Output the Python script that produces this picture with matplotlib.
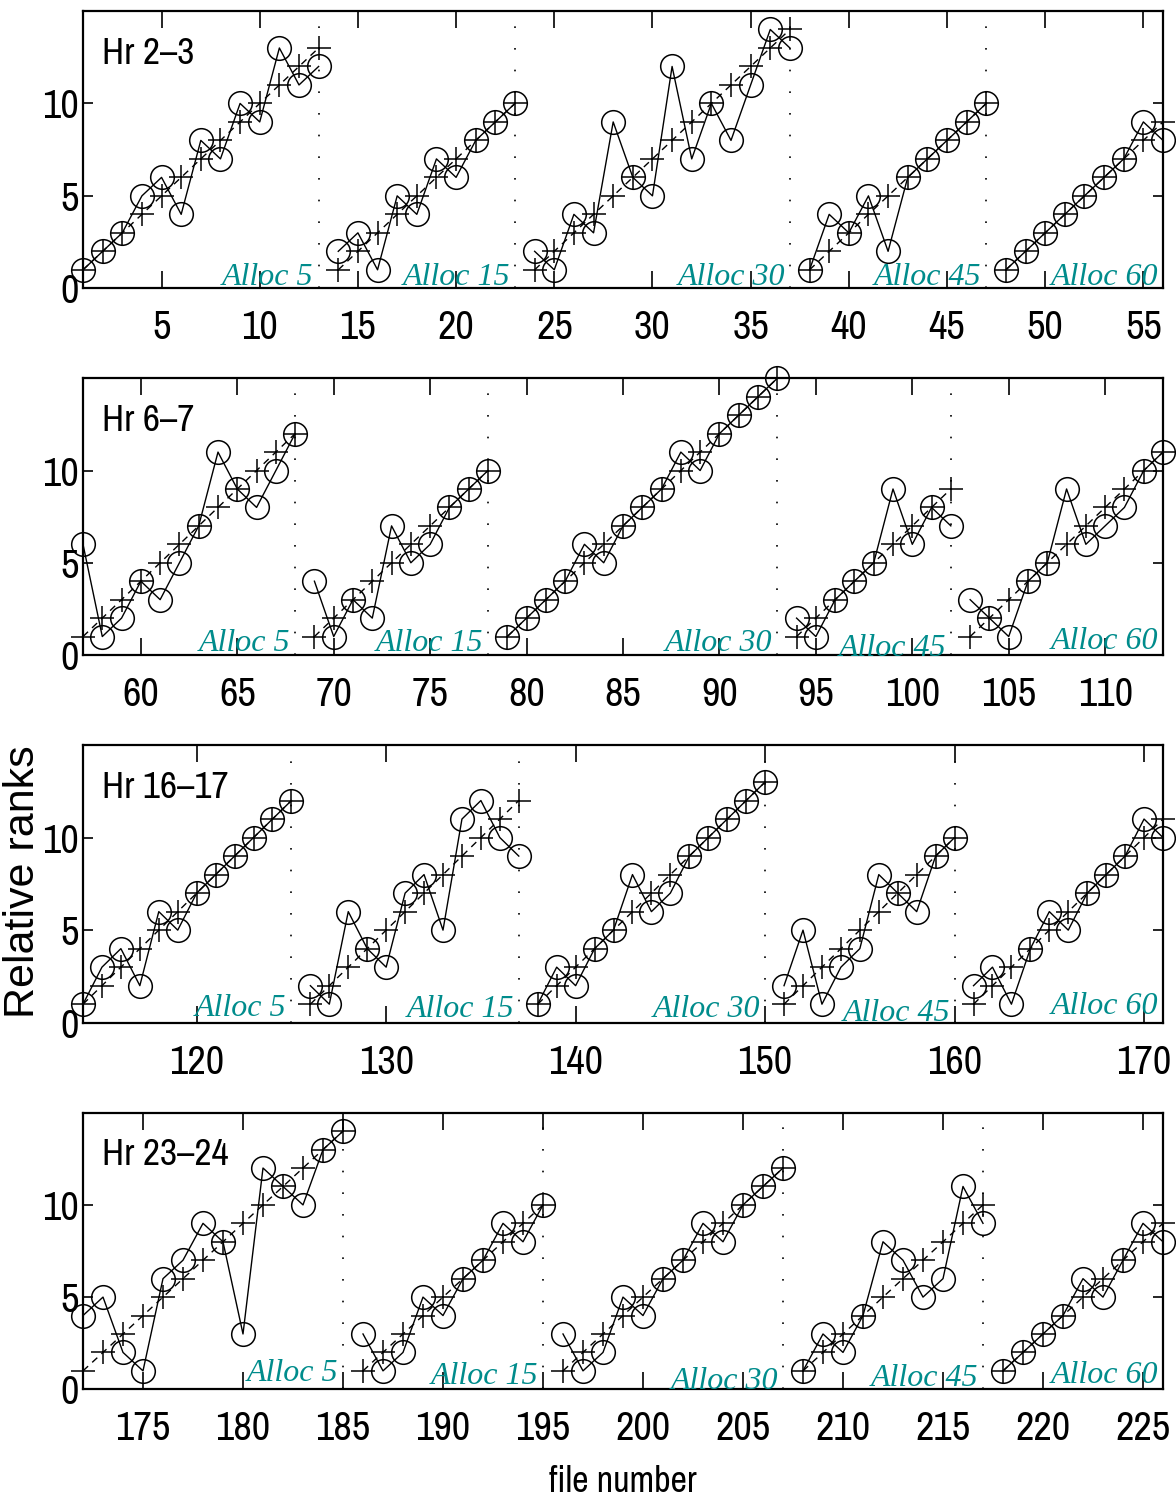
import numpy as np
import matplotlib
matplotlib.use("Agg")
import matplotlib.pyplot as plt
from matplotlib import font_manager

# ---------------- data ----------------
panel_titles = ["Hr 2\u20133", "Hr 6\u20137", "Hr 16\u201317", "Hr 23\u201324"]
alloc_labels = ["Alloc 5", "Alloc 15", "Alloc 30", "Alloc 45", "Alloc 60"]

# first file number of each allocation segment, per panel
p1_starts = [1, 14, 24, 38, 48]
p2_starts = [57, 69, 79, 94, 103]
p3_starts = [114, 126, 138, 151, 161]
p4_starts = [172, 186, 196, 208, 218]

# circle series (relative ranks) per segment
p1_circ = [[1, 2, 3, 5, 6, 4, 8, 7, 10, 9, 13, 11, 12],
           [2, 3, 1, 5, 4, 7, 6, 8, 9, 10],
           [2, 1, 4, 3, 9, 6, 5, 12, 7, 10, 8, 11, 14, 13],
           [1, 4, 3, 5, 2, 6, 7, 8, 9, 10],
           [1, 2, 3, 4, 5, 6, 7, 9, 8]]
p2_circ = [[6, 1, 2, 4, 3, 5, 7, 11, 9, 8, 10, 12],
           [4, 1, 3, 2, 7, 5, 6, 8, 9, 10],
           [1, 2, 3, 4, 6, 5, 7, 8, 9, 11, 10, 12, 13, 14, 15],
           [2, 1, 3, 4, 5, 9, 6, 8, 7],
           [3, 2, 1, 4, 5, 9, 6, 7, 8, 10, 11]]
p3_circ = [[1, 3, 4, 2, 6, 5, 7, 8, 9, 10, 11, 12],
           [2, 1, 6, 4, 3, 7, 8, 5, 11, 12, 10, 9],
           [1, 3, 2, 4, 5, 8, 6, 7, 9, 10, 11, 12, 13],
           [2, 5, 1, 3, 4, 8, 7, 6, 9, 10],
           [2, 3, 1, 4, 6, 5, 7, 8, 9, 11, 10]]
p4_circ = [[4, 5, 2, 1, 6, 7, 9, 8, 3, 12, 11, 10, 13, 14],
           [3, 1, 2, 5, 4, 6, 7, 9, 8, 10],
           [3, 1, 2, 5, 4, 6, 7, 9, 8, 10, 11, 12],
           [1, 3, 2, 4, 8, 7, 5, 6, 11, 9],
           [1, 2, 3, 4, 6, 5, 7, 9, 8]]

# plus series (reference ranks) per segment
p1_plus = [[1, 2, 3, 4, 5, 6, 7, 8, 9, 10, 11, 12, 13],
           [1, 2, 3, 4, 5, 6, 7, 8, 9, 10],
           [1, 2, 3, 4, 5, 6, 7, 8, 9, 10, 11, 12, 13, 14],
           [1, 2, 3, 4, 5, 6, 7, 8, 9, 10],
           [1, 2, 3, 4, 5, 6, 7, 8, 9]]
p2_plus = [[1, 2, 3, 4, 5, 6, 7, 8, 9, 10, 11, 12],
           [1, 2, 3, 4, 5, 6, 7, 8, 9, 10],
           [1, 2, 3, 4, 5, 6, 7, 8, 9, 10, 11, 12, 13, 14, 15],
           [1, 2, 3, 4, 5, 6, 7, 8, 9],
           [1, 2, 3, 4, 5, 6, 7, 8, 9, 10, 11]]
p3_plus = [[1, 2, 3, 4, 5, 6, 7, 8, 9, 10, 11, 12],
           [1, 2, 3, 4, 5, 6, 7, 8, 9, 10, 11, 12],
           [1, 2, 3, 4, 5, 6, 7, 8, 9, 10, 11, 12, 13],
           [1, 2, 3, 4, 5, 6, 7, 8, 9, 10],
           [1, 2, 3, 4, 5, 6, 7, 8, 9, 10, 11]]
p4_plus = [[1, 2, 3, 4, 5, 6, 7, 8, 9, 10, 11, 12, 13, 14],
           [1, 2, 3, 4, 5, 6, 7, 8, 9, 10],
           [1, 2, 3, 4, 5, 6, 7, 8, 9, 10, 11, 12],
           [1, 2, 3, 4, 5, 6, 7, 8, 9, 10],
           [1, 2, 3, 4, 5, 6, 7, 8, 9]]

p1_xticks = [5, 10, 15, 20, 25, 30, 35, 40, 45, 50, 55]
p2_xticks = [60, 65, 70, 75, 80, 85, 90, 95, 100, 105, 110]
p3_xticks = [120, 130, 140, 150, 160, 170]
p4_xticks = [175, 180, 185, 190, 195, 200, 205, 210, 215, 220, 225]
yticks = [0, 5, 10]

# ---------------- style ----------------
entries = font_manager.fontManager.ttflist
avail = {f.name for f in entries}
narrow_name = None
for f in entries:
    nm = f.name
    if ("Narrow" in nm or "Condensed" in nm) and "Serif" not in nm and "Mono" not in nm:
        narrow_name = nm
        break
if narrow_name:
    narrow = [narrow_name, "DejaVu Sans"]
    nsize = 29
    tsize = 27
    fsize = 26
else:
    narrow = [n for n in ["Liberation Sans"] if n in avail] + ["DejaVu Sans"]
    nsize = 24
    tsize = 24
    fsize = 23
serif = [n for n in ["Liberation Serif"] if n in avail] + ["DejaVu Serif"]
sans = [n for n in ["Liberation Sans"] if n in avail] + ["DejaVu Sans"]
teal = "#008c8c"

panels = [
    (p1_starts, p1_circ, p1_plus, p1_xticks),
    (p2_starts, p2_circ, p2_plus, p2_xticks),
    (p3_starts, p3_circ, p3_plus, p3_xticks),
    (p4_starts, p4_circ, p4_plus, p4_xticks),
]

# per-panel, per-label vertical baseline offsets (in data units)
label_y = [[0.2, 0.2, 0.2, 0.2, 0.2],
           [0.2, 0.2, 0.2, -0.05, 0.35],
           [0.35, 0.3, 0.3, 0.1, 0.45],
           [0.45, 0.3, 0.0, 0.2, 0.35]]

W, H = 1176, 1503
fig = plt.figure(figsize=(W / 100, H / 100), dpi=100)

axes_px = [(11, 288.3), (378.3, 655), (745, 1022.7), (1112.7, 1389.3)]
left_px, right_px = 83, 1163

for i, ((starts, circs, pluses, xt), (top, bot)) in enumerate(zip(panels, axes_px)):
    ax = fig.add_axes([left_px / W, 1 - bot / H, (right_px - left_px) / W, (bot - top) / H])
    last_end = None
    for j, (s, c, p) in enumerate(zip(starts, circs, pluses)):
        x = np.arange(s, s + len(c))
        ax.plot(x, p, color="black", lw=1.0, ls=(0, (5, 4)), marker="+",
                ms=17, mew=1.1, clip_on=False, zorder=3)
        ax.plot(x, c, color="black", lw=1.0, ls="-", marker="o", ms=17,
                mfc="none", mec="black", mew=1.1, clip_on=False, zorder=4)
        end = s + len(c) - 1
        if j < len(starts) - 1:
            ax.axvline(end, color="black", lw=1.2, ls=(0, (1, 12)), zorder=1)
        ax.text(end - 0.25, label_y[i][j], alloc_labels[j], color=teal,
                fontsize=23, style="italic", family=serif,
                ha="right", va="baseline", zorder=5, clip_on=False)
        last_end = end
    ax.set_xlim(starts[0], last_end)
    ax.set_ylim(0, 15)
    ax.set_xticks(xt)
    ax.set_yticks(yticks)
    ax.tick_params(axis="both", direction="in", top=True, right=True,
                   labelsize=nsize, width=1.2)
    ax.tick_params(axis="x", length=12, pad=15)
    ax.tick_params(axis="y", length=7, pad=3)
    for lab in ax.get_xticklabels() + ax.get_yticklabels():
        lab.set_family(narrow)
    for sp in ax.spines.values():
        sp.set_linewidth(1.6)
    ax.text(0.018, 0.81, panel_titles[i], transform=ax.transAxes,
            fontsize=tsize, family=narrow, ha="left", va="baseline")

fig.text(23 / W, 1 - 882 / H, "Relative ranks", rotation=90, fontsize=31,
         family=sans, ha="center", va="center")
fig.text(0.53, 1 - 1482 / H, "file number", fontsize=fsize, family=narrow,
         ha="center", va="center")

fig.savefig("out.png", dpi=100)
